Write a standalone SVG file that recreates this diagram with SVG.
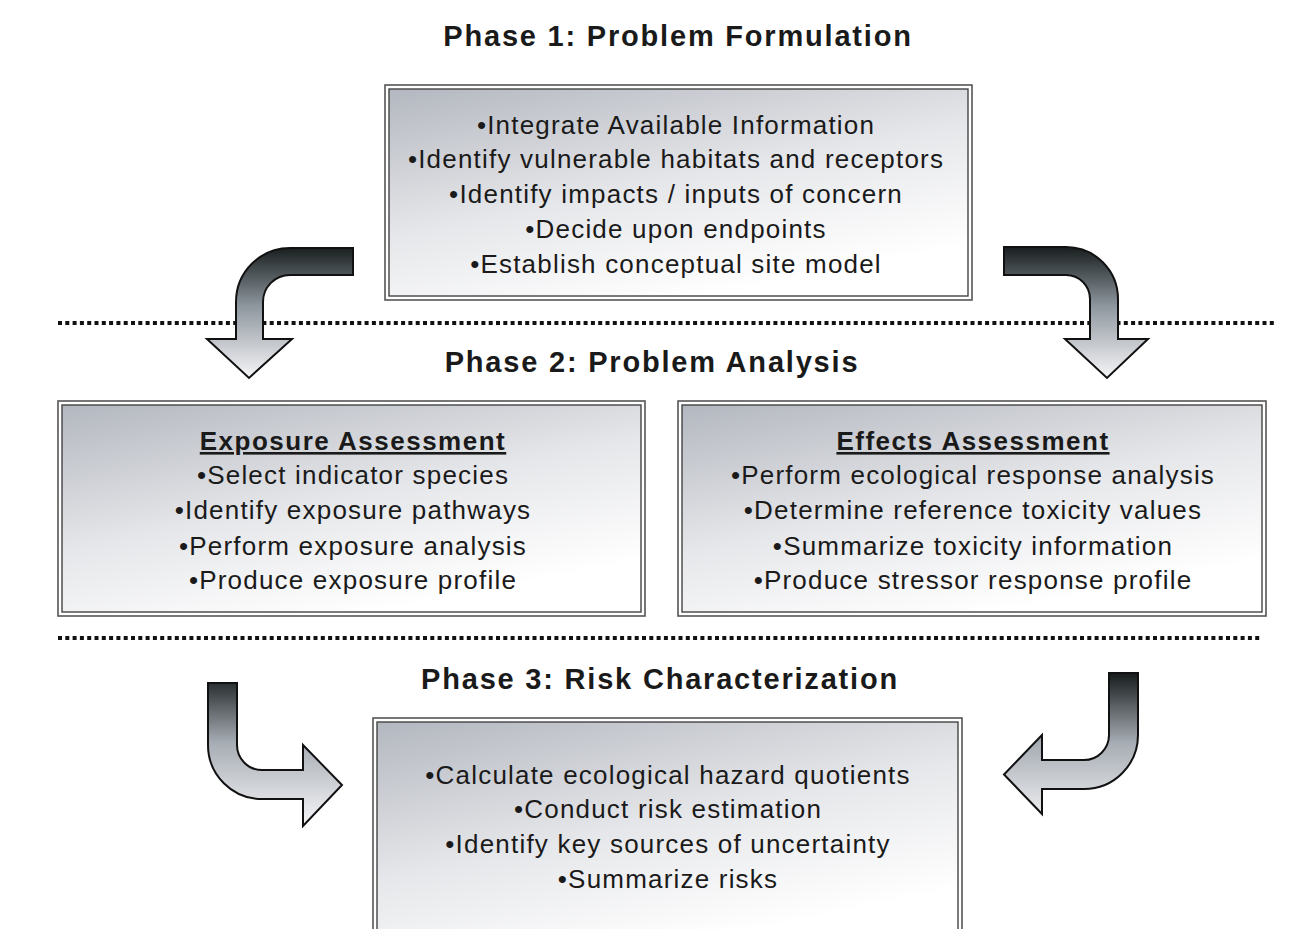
<svg xmlns="http://www.w3.org/2000/svg" width="1293" height="929" viewBox="0 0 1293 929">
<defs>
<linearGradient id="boxg" x1="0" y1="0" x2="0.55" y2="1">
<stop offset="0" stop-color="#b3b7bf"/>
<stop offset="0.55" stop-color="#e6e7ea"/>
<stop offset="1" stop-color="#ffffff"/>
</linearGradient>
<linearGradient id="agTop" gradientUnits="userSpaceOnUse" x1="0" y1="248" x2="0" y2="378">
<stop offset="0" stop-color="#1a2020"/>
<stop offset="0.45" stop-color="#8f979f"/>
<stop offset="1" stop-color="#f6f6f8"/>
</linearGradient>
<linearGradient id="agBot" gradientUnits="userSpaceOnUse" x1="0" y1="675" x2="0" y2="826">
<stop offset="0" stop-color="#1a2020"/>
<stop offset="0.45" stop-color="#a7adb4"/>
<stop offset="1" stop-color="#f6f6f8"/>
</linearGradient>
</defs>
<style>
.outer{fill:#ffffff;stroke:#555;stroke-width:1.6}
.inner{fill:url(#boxg);stroke:#444;stroke-width:1.4}
.title{font-family:"Liberation Sans",Arial,sans-serif;font-weight:bold;font-size:29px;letter-spacing:1.8px;fill:#1a1a1a;text-anchor:middle}
.txt{font-family:"Liberation Sans",Arial,sans-serif;font-size:26px;letter-spacing:1.2px;fill:#1a1a1a;text-anchor:middle}
.hd{font-family:"Liberation Sans",Arial,sans-serif;font-weight:bold;font-size:26px;letter-spacing:1.5px;fill:#1a1a1a;text-anchor:middle;text-decoration:underline}
.dots{stroke:#111;stroke-width:4;stroke-dasharray:4 3.3;fill:none}
.arrow{stroke:#111;stroke-width:2;stroke-linejoin:miter}
</style>
<rect width="1293" height="929" fill="#ffffff"/>

<g id="titles">
<text class="title" x="678" y="46">Phase 1: Problem Formulation</text>
<text class="title" x="652" y="372">Phase 2: Problem Analysis</text>
<text class="title" x="660" y="689">Phase 3: Risk Characterization</text>
</g>

<g id="separators">
<line class="dots" x1="58" y1="323" x2="1274" y2="323"/>
<line class="dots" x1="58" y1="638" x2="1262" y2="638"/>
</g>

<g id="phase1-box">
<rect class="outer" x="385" y="85" width="587" height="215"/>
<rect class="inner" x="389" y="89" width="579" height="207"/>
<text class="txt" x="676" y="134">•Integrate Available Information</text>
<text class="txt" x="676" y="168">•Identify vulnerable habitats and receptors</text>
<text class="txt" x="676" y="203">•Identify impacts / inputs of concern</text>
<text class="txt" x="676" y="238">•Decide upon endpoints</text>
<text class="txt" x="676" y="273">•Establish conceptual site model</text>
</g>

<g id="exposure-box">
<rect class="outer" x="58" y="401" width="587" height="215"/>
<rect class="inner" x="62" y="405" width="579" height="207"/>
<text class="hd" x="353" y="450">Exposure Assessment</text>
<text class="txt" x="353" y="484">•Select indicator species</text>
<text class="txt" x="353" y="519">•Identify exposure pathways</text>
<text class="txt" x="353" y="555">•Perform exposure analysis</text>
<text class="txt" x="353" y="589">•Produce exposure profile</text>
</g>

<g id="effects-box">
<rect class="outer" x="678" y="401" width="588" height="215"/>
<rect class="inner" x="682" y="405" width="580" height="207"/>
<text class="hd" x="973" y="450">Effects Assessment</text>
<text class="txt" x="973" y="484">•Perform ecological response analysis</text>
<text class="txt" x="973" y="519">•Determine reference toxicity values</text>
<text class="txt" x="973" y="555">•Summarize toxicity information</text>
<text class="txt" x="973" y="589">•Produce stressor response profile</text>
</g>

<g id="phase3-box">
<rect class="outer" x="373" y="718" width="589" height="230"/>
<rect class="inner" x="377" y="722" width="581" height="222"/>
<text class="txt" x="668" y="784">•Calculate ecological hazard quotients</text>
<text class="txt" x="668" y="818">•Conduct risk estimation</text>
<text class="txt" x="668" y="853">•Identify key sources of uncertainty</text>
<text class="txt" x="668" y="888">•Summarize risks</text>
</g>

<g id="connectors">
<path class="arrow" fill="url(#agTop)" d="M 353 248 L 290 248 A 54 54 0 0 0 236 302 L 236 339 L 207 339 L 249 378 L 292 339 L 263 339 L 263 302 A 27 27 0 0 1 290 275 L 353 275 Z"/>
<path class="arrow" fill="url(#agTop)" d="M 1004 247 L 1066 247 A 52 52 0 0 1 1118 299 L 1118 339 L 1148 339 L 1107 378 L 1065 339 L 1090 339 L 1090 299 A 24 24 0 0 0 1066 275 L 1004 275 Z"/>
<path class="arrow" fill="url(#agBot)" d="M 208 683 L 237 683 L 237 745 A 25 25 0 0 0 262 770 L 303 770 L 303 745 L 342 785 L 303 826 L 303 799 L 262 799 A 54 54 0 0 1 208 745 Z"/>
<path class="arrow" fill="url(#agBot)" d="M 1109 673 L 1138 673 L 1138 735 A 54 54 0 0 1 1084 789 L 1042 789 L 1042 814 L 1004 774.5 L 1042 735 L 1042 760 L 1084 760 A 25 25 0 0 0 1109 735 Z"/>
</g>
</svg>
